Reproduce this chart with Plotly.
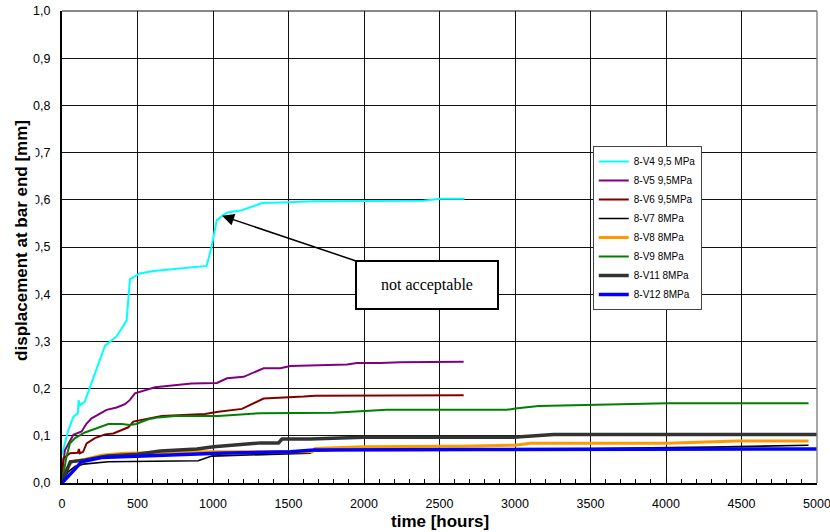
import plotly.graph_objects as go

# ---- data ----
v4_t = [0, 40, 75, 105, 110, 120, 150, 285, 360, 428, 450, 515, 605, 958, 990, 1025, 1060, 1095, 1190, 1325, 1500, 1665, 2395, 2505, 2665]
v4_d = [0.06, 0.11, 0.14, 0.148, 0.175, 0.165, 0.172, 0.291, 0.31, 0.344, 0.432, 0.444, 0.449, 0.46, 0.50, 0.557, 0.566, 0.573, 0.578, 0.593, 0.595, 0.597, 0.598, 0.602, 0.602]

v5_t = [0, 20, 75, 130, 163, 196, 295, 362, 417, 450, 483, 616, 858, 991, 1026, 1093, 1203, 1335, 1446, 1512, 1689, 1887, 1954, 2108, 2240, 2505, 2660]
v5_d = [0.024, 0.07, 0.102, 0.109, 0.126, 0.137, 0.155, 0.16, 0.167, 0.176, 0.19, 0.203, 0.211, 0.212, 0.212, 0.222, 0.225, 0.243, 0.243, 0.248, 0.25, 0.251, 0.254, 0.254, 0.256, 0.257, 0.257]

v6_t = [0, 9, 53, 105, 112, 118, 140, 163, 218, 285, 340, 384, 439, 472, 505, 572, 660, 947, 1035, 1192, 1269, 1335, 1600, 1677, 2660]
v6_d = [0.01, 0.052, 0.063, 0.064, 0.072, 0.063, 0.066, 0.084, 0.095, 0.103, 0.105, 0.111, 0.118, 0.13, 0.132, 0.137, 0.142, 0.146, 0.151, 0.157, 0.169, 0.179, 0.183, 0.185, 0.186]

v7_t = [0, 42, 86, 141, 307, 902, 991, 1644, 1666, 2000, 2700, 3500, 4300, 4944]
v7_d = [0.003, 0.024, 0.035, 0.04, 0.045, 0.047, 0.057, 0.063, 0.068, 0.071, 0.072, 0.073, 0.076, 0.080]

v8_t = [0, 30, 64, 152, 262, 417, 916, 1660, 1677, 1997, 2550, 2638, 3002, 3101, 3477, 4007, 4470, 4944]
v8_d = [0.005, 0.028, 0.045, 0.05, 0.059, 0.063, 0.066, 0.066, 0.073, 0.077, 0.078, 0.078, 0.08, 0.084, 0.084, 0.084, 0.089, 0.089]

v9_t = [0, 30, 53, 86, 152, 240, 307, 395, 450, 490, 572, 638, 748, 1035, 1137, 1313, 1799, 1997, 2152, 2947, 3002, 3156, 3500, 3786, 4007, 4944]
v9_d = [0.003, 0.056, 0.084, 0.095, 0.107, 0.118, 0.125, 0.125, 0.123, 0.125, 0.135, 0.139, 0.142, 0.142, 0.144, 0.148, 0.149, 0.153, 0.155, 0.155, 0.158, 0.163, 0.165, 0.168, 0.169, 0.169]

v11_t = [0, 55, 154, 298, 497, 651, 894, 1004, 1313, 1434, 1457, 1644, 1997, 2991, 3256, 5000]
v11_d = [0.003, 0.045, 0.049, 0.057, 0.061, 0.068, 0.072, 0.077, 0.085, 0.085, 0.093, 0.093, 0.097, 0.097, 0.103, 0.103]

v12_t = [0, 130, 262, 417, 638, 1035, 1512, 1666, 2780, 5000]
v12_d = [0.0, 0.045, 0.054, 0.056, 0.059, 0.063, 0.066, 0.07, 0.071, 0.072]

names = ["8-V4 9,5 MPa", "8-V5 9,5MPa", "8-V6 9,5MPa", "8-V7 8MPa",
         "8-V8 8MPa", "8-V9 8MPa", "8-V11 8MPa", "8-V12 8MPa"]

x_ticks = [0, 500, 1000, 1500, 2000, 2500, 3000, 3500, 4000, 4500, 5000]
y_ticks = [0.0, 0.1, 0.2, 0.3, 0.4, 0.5, 0.6, 0.7, 0.8, 0.9, 1.0]
y_ticktext = ["0,0", "0,1", "0,2", "0,3", "0,4", "0,5", "0,6", "0,7", "0,8", "0,9", "1,0"]

series = [(v4_t, v4_d), (v5_t, v5_d), (v6_t, v6_d), (v7_t, v7_d),
          (v8_t, v8_d), (v9_t, v9_d), (v11_t, v11_d), (v12_t, v12_d)]
colors = ["#00FFFF", "#800080", "#800000", "#000000", "#FF9900", "#008000", "#333333", "#0000FF"]
widths = [2, 2, 2, 1.6, 3, 2, 3.5, 3.5]

FONT = "Liberation Sans, Arial, sans-serif"

fig = go.Figure()
for (t, d), n, c, w in zip(series, names, colors, widths):
    fig.add_trace(go.Scatter(x=t, y=d, mode="lines", name=n,
                             line=dict(color=c, width=w)))

fig.update_layout(
    width=830, height=532,
    margin=dict(l=62, r=13, t=11, b=49, autoexpand=False),
    paper_bgcolor="white", plot_bgcolor="white",
    font=dict(family=FONT, size=12, color="black"),
    showlegend=True,
    legend=dict(x=0.703, y=0.714, xanchor="left", yanchor="top",
                bgcolor="white", bordercolor="#444444", borderwidth=1,
                font=dict(family=FONT, size=10, color="black"),
                itemwidth=30, tracegroupgap=0),
    xaxis=dict(range=[0, 5000], tickvals=x_ticks, showgrid=True,
               gridcolor="#111111", gridwidth=1, zeroline=False,
               showline=True, linecolor="black", linewidth=2,
               ticks="inside", ticklen=4, tickcolor="black",
               minor=dict(dtick=100, ticks="inside", ticklen=4, tickcolor="black", showgrid=False),
               tickfont=dict(family=FONT, size=12.5), ticklabelstandoff=8,
               ticklabeloverflow="allow"),
    yaxis=dict(range=[0, 1.0], tickvals=y_ticks, ticktext=y_ticktext,
               showgrid=True, gridcolor="#111111", gridwidth=1, zeroline=False,
               showline=True, linecolor="black", linewidth=2,
               ticks="", tickfont=dict(family=FONT, size=12.5), ticklabelstandoff=7,
               ticklabeloverflow="allow"),
)

# plot borders (top, right)
fig.add_shape(type="line", xref="paper", yref="paper", x0=0, x1=1, y0=1, y1=1,
              line=dict(color="#111111", width=1))
fig.add_shape(type="line", xref="paper", yref="paper", x0=1, x1=1, y0=0, y1=1,
              line=dict(color="#888888", width=1.5))

# axis titles
fig.add_annotation(text="<b>displacement at bar end [mm]</b>", xref="paper", yref="paper",
                   x=-0.053, y=0.515, xanchor="center", yanchor="middle", textangle=-90,
                   showarrow=False, bgcolor="white", borderpad=4,
                   font=dict(family=FONT, size=17, color="black"))
fig.add_annotation(text="<b>time [hours]</b>", xref="paper", yref="paper",
                   x=0.5, y=-0.082, xanchor="center", yanchor="middle",
                   showarrow=False, font=dict(family=FONT, size=17, color="black"))

# callout
fig.add_annotation(text="not acceptable", x=1060, y=0.566, xref="x", yref="y",
                   ax=205, ay=69, showarrow=True, arrowhead=2, arrowsize=1.6,
                   arrowwidth=1.5, arrowcolor="black",
                   bgcolor="white", bordercolor="black", borderwidth=2, borderpad=2,
                   width=136, height=42,
                   font=dict(family="Liberation Serif, Times New Roman, serif", size=16, color="black"))

fig.write_html("out.html", config={"displayModeBar": False},
               post_script="document.body.style.margin='0';")
